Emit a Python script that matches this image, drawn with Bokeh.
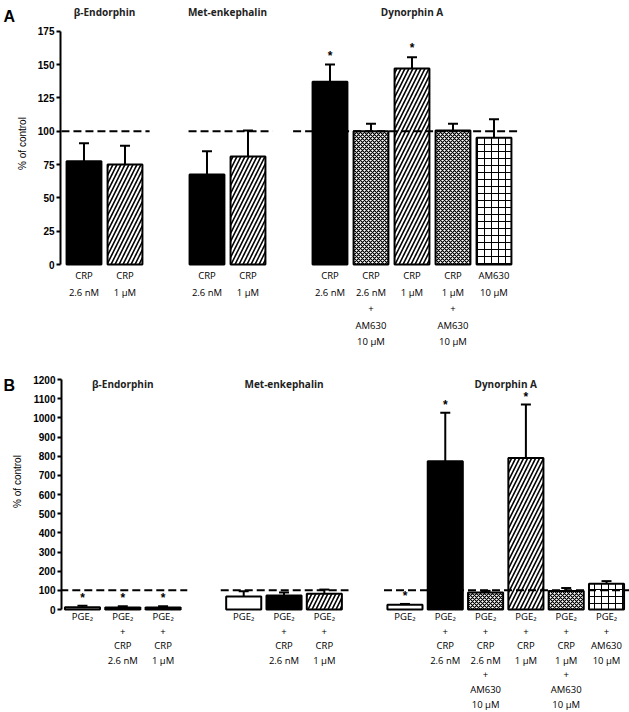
import math
from bokeh.plotting import figure
from bokeh.models import ColumnDataSource, Range1d, FixedTicker, Whisker, TeeHead
from bokeh.layouts import column, row
from bokeh.embed import file_html
from bokeh.resources import INLINE
from bokeh.core.properties import value

# ---------------- Panel A data ----------------
A_groups = ["β-Endorphin", "Met-enkephalin", "Dynorphin A"]
A_labels = [
    ["CRP\n2.6 nM", "CRP\n1 μM"],
    ["CRP\n2.6 nM", "CRP\n1 μM"],
    ["CRP\n2.6 nM", "CRP\n2.6 nM\n+\nAM630\n10 μM", "CRP\n1 μM",
     "CRP\n1 μM\n+\nAM630\n10 μM", "AM630\n10 μM"],
]
A_treat = [
    ["crp_low", "crp_high"],
    ["crp_low", "crp_high"],
    ["crp_low", "crp_low_am", "crp_high", "crp_high_am", "am"],
]
A_values = [[77.5, 75.0], [67.5, 81.0], [137.0, 100.0, 147.0, 100.5, 95.0]]
A_sem = [[13.5, 14.0], [17.5, 19.5], [13.0, 5.5, 8.5, 5.0, 14.0]]
A_sig = [[0, 0], [0, 0], [1, 0, 1, 0, 0]]
A_yticks = [0, 25, 50, 75, 100, 125, 150, 175]

# ---------------- Panel B data ----------------
B_groups = ["β-Endorphin", "Met-enkephalin", "Dynorphin A"]
B_labels = [
    ["PGE₂", "PGE₂\n+\nCRP\n2.6 nM", "PGE₂\n+\nCRP\n1 μM"],
    ["PGE₂", "PGE₂\n+\nCRP\n2.6 nM", "PGE₂\n+\nCRP\n1 μM"],
    ["PGE₂", "PGE₂\n+\nCRP\n2.6 nM", "PGE₂\n+\nCRP\n2.6 nM\n+\nAM630\n10 μM",
     "PGE₂\n+\nCRP\n1 μM", "PGE₂\n+\nCRP\n1 μM\n+\nAM630\n10 μM", "PGE₂\n+\nAM630\n10 μM"],
]
B_treat = [
    ["pge", "crp_low", "crp_high"],
    ["pge", "crp_low", "crp_high"],
    ["pge", "crp_low", "crp_low_am", "crp_high", "crp_high_am", "am"],
]
B_values = [[12.0, 10.0, 10.0], [68.0, 73.0, 82.0], [25.0, 774.0, 89.0, 791.0, 97.0, 134.0]]
B_sem = [[8.0, 7.0, 7.0], [27.0, 16.0, 22.0], [4.0, 252.0, 8.0, 278.0, 15.0, 14.0]]
B_sig = [[1, 1, 1], [0, 0, 0], [1, 1, 0, 1, 0, 0]]
B_yticks = [0, 100, 200, 300, 400, 500, 600, 700, 800, 900, 1000, 1100, 1200]

Y_LABEL = "% of control"
CONTROL = 100

STYLE = {
    "pge": dict(fill="white", hatch=" ", scale=6, weight=1.0),
    "crp_low": dict(fill="black", hatch=" ", scale=6, weight=1.0),
    "crp_high": dict(fill="white", hatch="/", scale=8, weight=1.6),
    "crp_low_am": dict(fill="white", hatch="x", scale=4, weight=1.2),
    "crp_high_am": dict(fill="white", hatch="x", scale=4, weight=1.2),
    "am": dict(fill="white", hatch="+", scale=7, weight=1.0),
}

LABEL_FONT = "Open Sans"
TICK_FONT = "Liberation Sans"


def side_panel(letter, width, height, letter_pos, ylabel_pos):
    """Narrow strip on the left holding the panel letter and the y-axis title."""
    s = figure(width=width, height=height, output_backend="svg", toolbar_location=None,
               x_range=Range1d(0, width), y_range=Range1d(height, 0),
               x_axis_location=None, y_axis_location=None,
               min_border=0)
    s.outline_line_color = None
    s.xgrid.visible = False
    s.ygrid.visible = False
    s.text(x=[letter_pos[0]], y=[letter_pos[1]], text=[letter], text_align="left",
           text_baseline="middle", text_font=value(TICK_FONT), text_font_size="16px",
           text_font_style="bold", text_color="black")
    s.text(x=[ylabel_pos[0]], y=[ylabel_pos[1]], text=[Y_LABEL], angle=math.pi / 2,
           text_align="center", text_baseline="middle", text_font=value(TICK_FONT),
           text_font_size="10px", text_color="black")
    return s


def build_panel(groups, labels, treat, values, sem, sig, yticks,
                width, height, left, xr, yr, bar_w, lab_first, lab_step,
                dash_left, title_px, star_px):
    p = figure(width=width, height=height, output_backend="svg", toolbar_location=None,
               x_range=Range1d(*xr), y_range=Range1d(*yr), x_axis_location=None,
               min_border_left=left, min_border_right=0, min_border_top=0,
               min_border_bottom=0)
    p.outline_line_color = None
    p.xgrid.visible = False
    p.ygrid.visible = False
    upp = (yr[1] - yr[0]) / height          # data units per pixel (vertical)

    # slot positions: bars consecutive inside a group, one empty slot between groups
    pos, s = [], 0
    group_pos = []
    for g in labels:
        gp = []
        for _ in g:
            gp.append(s)
            s += 1
        group_pos.append(gp)
        pos.extend(gp)
        s += 1

    flat_t = [t for g in treat for t in g]
    flat_v = [v for g in values for v in g]
    flat_e = [v + e for g1, g2 in zip(values, sem) for v, e in zip(g1, g2)]
    flat_s = [x for g in sig for x in g]

    src = ColumnDataSource(dict(
        x=pos, top=flat_v, hi=flat_e,
        fill=[STYLE[t]["fill"] for t in flat_t],
        hatch=[STYLE[t]["hatch"] for t in flat_t],
        hscale=[STYLE[t]["scale"] for t in flat_t],
        hweight=[STYLE[t]["weight"] for t in flat_t],
    ))
    p.vbar(x="x", top="top", bottom=0, width=bar_w, source=src,
           fill_color="fill", line_color="black", line_width=2,
           hatch_pattern="hatch", hatch_scale="hscale", hatch_weight="hweight",
           hatch_color="black")

    # control (100 %) dashed reference per group
    x0 = [gp[0] - dl for gp, dl in zip(group_pos, dash_left)]
    x1 = [gp[-1] + 0.6 for gp in group_pos]
    p.segment(x0=x0, x1=x1, y0=[CONTROL] * len(x0), y1=[CONTROL] * len(x0),
              line_color="black", line_width=2, line_dash="8 4")

    # error bars (upper only)
    w = Whisker(source=src, base="x", lower="top", upper="hi", dimension="height",
                line_color="black", line_width=2, lower_head=None,
                upper_head=TeeHead(size=10, line_width=2, line_color="black"))
    p.add_layout(w)

    # significance stars
    sx = [x for x, f in zip(pos, flat_s) if f]
    sy = [h + star_px * upp for h, f in zip(flat_e, flat_s) if f]
    p.text(x=sx, y=sy, text=["*"] * len(sx), text_align="center", text_baseline="middle",
           text_font=value(TICK_FONT), text_font_size="12px", text_font_style="bold",
           text_color="black")

    # category labels beneath the bars (multi-line)
    lx, ly, lt = [], [], []
    for x, lab in zip(pos, [l for g in labels for l in g]):
        for k, line in enumerate(lab.split("\n")):
            lx.append(x)
            ly.append(-(lab_first + k * lab_step) * upp)
            lt.append(line)
    p.text(x=lx, y=ly, text=lt, text_align="center", text_baseline="middle",
           text_font=value(LABEL_FONT), text_font_size="9.5px", text_color="black")

    # group titles
    tx = [(gp[0] + gp[-1]) / 2 for gp in group_pos]
    ty = [yr[1] - title_px * upp] * len(tx)
    p.text(x=tx, y=ty, text=groups, text_align="center", text_baseline="top",
           text_font=value(LABEL_FONT), text_font_size="10px", text_font_style="bold",
           text_color="#222222")

    ax = p.yaxis[0]
    ax.bounds = (yticks[0], yticks[-1])
    ax.ticker = FixedTicker(ticks=yticks)
    ax.minor_tick_line_color = None
    ax.axis_line_width = 2
    ax.major_tick_line_width = 2
    ax.major_tick_in = 0
    ax.major_tick_out = 4
    ax.major_label_standoff = 2
    ax.major_label_text_font = TICK_FONT
    ax.major_label_text_font_size = "10px"
    ax.major_label_text_font_style = "bold"
    ax.major_label_text_color = "black"
    return p


# Panel A: strip 0-32 px, plot 32-629 px (frame starts at 60), height 375
sA = side_panel("A", 32, 375, letter_pos=(3, 15.5), ylabel_pos=(22, 143))
pA = build_panel(A_groups, A_labels, A_treat, A_values, A_sem, A_sig, A_yticks,
                 width=597, height=375, left=28, xr=(-0.573, 13.305), yr=(-83.25, 198.0),
                 bar_w=0.85, lab_first=11, lab_step=16.5,
                 dash_left=[0.55, 0.45, 0.9], title_px=4, star_px=9)

# Panel B: strip 0-30 px, plot 30-629 px (frame starts at 61), height 337
sB = side_panel("B", 30, 337, letter_pos=(3, 10), ylabel_pos=(17, 106))
pB = build_panel(B_groups, B_labels, B_treat, B_values, B_sem, B_sig, B_yticks,
                 width=599, height=337, left=31, xr=(-0.52, 13.57), yr=(-537.4, 1220.9),
                 bar_w=0.87, lab_first=7, lab_step=14.6,
                 dash_left=[0.55, 0.57, 0.52], title_px=1, star_px=8)

layout = column(row(sA, pA, spacing=0), row(sB, pB, spacing=0), spacing=0)
open("out.html", "w").write(file_html(layout, INLINE))
